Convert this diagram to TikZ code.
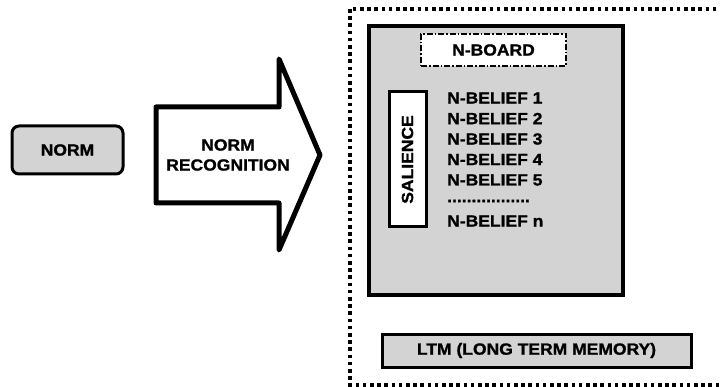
\documentclass[tikz,border=0pt]{standalone}
\usepackage{fontspec}
\setmainfont{Liberation Sans}[FakeStretch=1.08,FakeBold=1.2]
\usepackage{tikz}

\definecolor{boxgray}{RGB}{211,211,211}

\begin{document}
\begin{tikzpicture}[x=1pt,y=-1pt,
    font=\fontsize{16.2}{20}\selectfont\bfseries,
    graybox/.style={draw,line width=3pt,fill=boxgray,inner sep=0pt},
    whitebox/.style={draw,line width=3pt,fill=white,inner sep=0pt},
    belief/.style={anchor=west,inner sep=0pt}]
  \useasboundingbox (0,0) rectangle (720,387);
  \draw[line width=3.8pt,dash pattern=on 3.6pt off 3.6pt] (350,9) rectangle (726,385);
  \node[graybox,rounded corners=7pt,minimum width=111,minimum height=48] (norm) at (67.5,150) {NORM};
  \draw[line width=5pt,line join=round] (156,107) -- (279,107) -- (279,59) -- (320,155)
    -- (279,250) -- (279,203) -- (156,203) -- cycle;
  \node[align=center,inner sep=0pt] (recog) at (228,155) {NORM\\RECOGNITION};
  \node[graybox,line width=4.5pt,minimum width=254,minimum height=269] (wm) at (496,160.5) {};
  \node[draw,fill=white,line width=2.5pt,dash pattern=on 6pt off 2pt on 1.5pt off 2pt,
    minimum width=145,minimum height=32,inner sep=0pt] (nboard) at (493.5,50) {N-BOARD};
  \node[whitebox,rotate=90,minimum width=135,minimum height=37] (salience) at (407.5,159.5) {SALIENCE};
  \foreach \i in {1,...,5}
    \node[belief] (b\i) at (447,{98+20.5*(\i-1)}) {N-BELIEF \i};
  \node[belief] (dots) at (447,201) {.................};
  \node[belief] (bn) at (447,221) {N-BELIEF n};
  \node[graybox,minimum width=309,minimum height=33] (ltm) at (536.5,350.5) {LTM (LONG TERM MEMORY)};
\end{tikzpicture}
\end{document}
